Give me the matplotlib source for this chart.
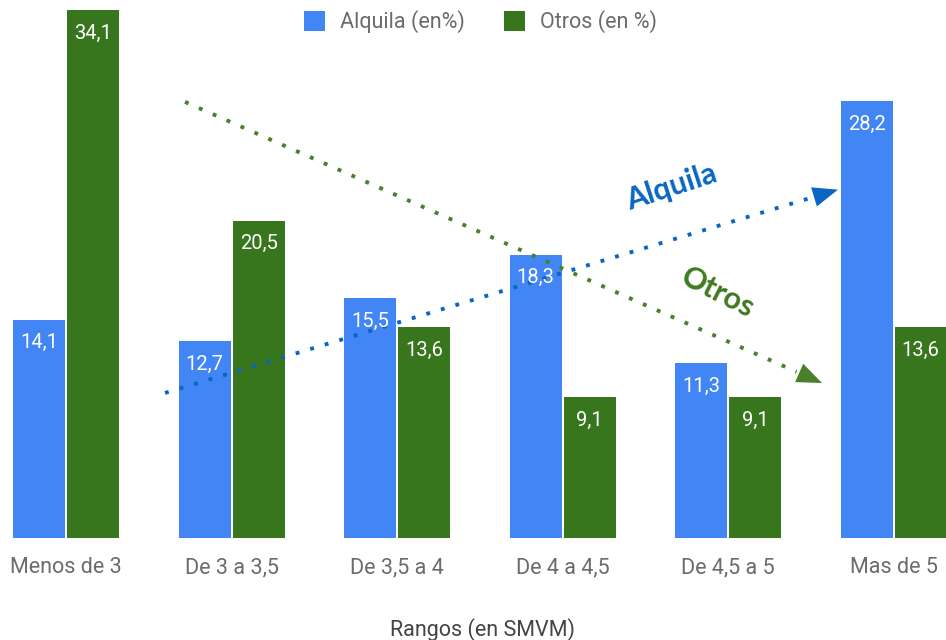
import numpy as np
import matplotlib.pyplot as plt

plt.rcParams['font.family'] = ['Roboto', 'DejaVu Sans']

rangos = ['Menos de 3', 'De 3 a 3,5', 'De 3,5 a 4', 'De 4 a 4,5', 'De 4,5 a 5', 'Mas de 5']
alquila = [14.1, 12.7, 15.5, 18.3, 11.3, 28.2]
otros = [34.1, 20.5, 13.6, 9.1, 9.1, 13.6]

azul = '#4285F4'
verde = '#38761D'

fig = plt.figure(figsize=(9.46, 6.4), dpi=100)
ax = fig.add_axes([0, 102 / 640, 1, 538 / 640])

x = np.arange(len(rangos))
w = 0.314
off = 0.163
b1 = ax.bar(x - off, alquila, w, color=azul, label='Alquila (en%)')
b2 = ax.bar(x + off, otros, w, color=verde, label='Otros (en %)')

for bars, vals in [(b1, alquila), (b2, otros)]:
    for r, v in zip(bars, vals):
        ax.annotate(f'{v:.1f}'.replace('.', ','),
                    (r.get_x() + r.get_width() / 2, v),
                    xytext=(0, -16.5), textcoords='offset points',
                    ha='center', va='center', color='white', fontsize=14.5)

ax.set_xlim(-0.4, 5.316)
ax.set_ylim(0, 34.75)
ax.set_xticks(x)
ax.set_xticklabels(rangos, fontsize=15.5, color='#6b6b6b')
ax.tick_params(axis='x', length=0, pad=14)
ax.set_yticks([])
for s in ax.spines.values():
    s.set_visible(False)

fig.text(0.51, 10 / 640, 'Rangos (en SMVM)', ha='center', va='center',
         fontsize=15.5, color='#444444')

# flechas de tendencia
def flecha(x0, y0, x1, y1, color):
    t = 0.96
    xm, ym = x0 + (x1 - x0) * t, y0 + (y1 - y0) * t
    ax.plot([x0, xm], [y0, ym], color=color, lw=2.8,
            linestyle=(0, (1, 2.9)), dash_capstyle='butt')
    ax.annotate('', xy=(x1, y1), xytext=(x0, y0),
                arrowprops=dict(arrowstyle='-|>,head_length=1.0,head_width=0.4',
                                mutation_scale=18, color=color, lw=0,
                                shrinkA=0, shrinkB=0))

flecha(0.718, 28.17, 4.567, 10.01, '#4a7f2c')
flecha(0.597, 9.37, 4.663, 22.5, '#0a66c2')

ax.text(3.66, 22.67, 'Alquila', color='#0a66c2', fontsize=22, fontweight='bold',
        family=['Lato', 'DejaVu Sans'], rotation=18, ha='center', va='center')
ax.text(3.94, 15.83, 'Otros', color='#3f7a1f', fontsize=22, fontweight='bold',
        family=['Lato', 'DejaVu Sans'], rotation=-27, ha='center', va='center')

fig.legend(handles=[b1, b2], loc='center', bbox_to_anchor=(0.508, 1 - 22 / 640),
           ncol=2, frameon=False, fontsize=15.5, labelcolor='#6b6b6b',
           handlelength=1.0, handleheight=1.0, handletextpad=0.7, columnspacing=1.8)

fig.savefig('out.png', dpi=100)
